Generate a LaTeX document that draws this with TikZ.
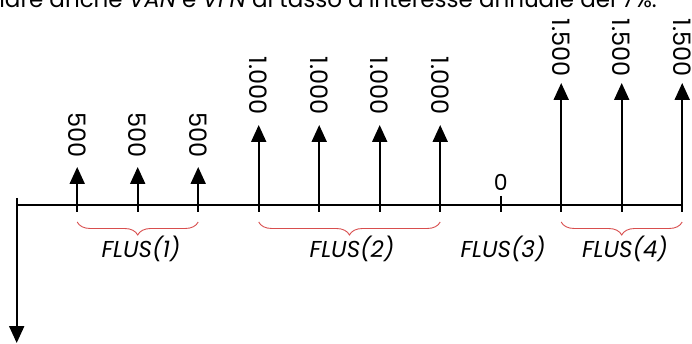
\documentclass[tikz,border=0pt]{standalone}
\usepackage{fontspec}
\setmainfont{Poppins}
\usetikzlibrary{arrows.meta,decorations.pathreplacing}
\definecolor{bracered}{RGB}{216,78,78}
\begin{document}
\begin{tikzpicture}[x=1pt,y=-1pt,
  axisline/.style={line width=2pt,black},
  flow/.style={line width=2pt,-{Triangle[length=17pt,width=15pt]}},
  tickmark/.style={line width=1.8pt},
  amount/.style={rotate=-90,anchor=east,inner sep=0pt,font=\fontsize{24}{24}\selectfont},
  groupbrace/.style={decorate,decoration={brace,mirror,amplitude=13pt},draw=bracered,line width=0.9pt},
  grouplabel/.style={anchor=base,inner sep=0pt,font=\fontsize{23}{23}\selectfont\itshape}]
\useasboundingbox (0,0) rectangle (692,344);
% title (cut off at the top)
\node[anchor=base east,inner sep=0pt,font=\fontsize{23}{23}\selectfont] (title) at (657,7.5)
  {Calcolare anche \textit{VAN} e \textit{VFN} al tasso d'interesse annuale del 7\%.};
% axis points
\coordinate (o) at (16.7,205);
\coordinate (otop) at (16.7,198);
\coordinate (obot) at (16.7,343);
\foreach \k in {1,...,11} { \coordinate (t\k) at ({16.7+60.5*\k},205); }
% axis and outflow
\draw[axisline] (o) -- (t11);
\draw[flow] (otop) -- (obot);
% ticks
\foreach \k in {1,...,11} { \draw[tickmark] (t\k) -- ++(0,7); }
\coordinate (z8) at (500.7,196);
\draw[tickmark] (z8) -- (t8);
% inflows
\foreach \k/\tip/\lab/\lend in {1/167/500/158,2/167/500/158,3/167/500/158,
  4/125/1.000/115,5/125/1.000/115,6/125/1.000/115,7/125/1.000/115,
  9/83/1.500/77,10/83/1.500/77,11/83/1.500/77} {
  \coordinate (h\k) at ({16.7+60.5*\k},\tip);
  \draw[flow] (t\k) -- (h\k);
  \node[amount] (v\k) at ({16.7+60.5*\k},\lend) {\lab};
}
\node[anchor=base,inner sep=0pt,font=\fontsize{22}{22}\selectfont] (zero) at (500.7,190.5) {0};
% braces
\draw[groupbrace] ([yshift=-17pt]t1) -- ([yshift=-17pt]t3);
\draw[groupbrace] ([yshift=-17pt]t4) -- ([yshift=-17pt]t7);
\draw[groupbrace] ([yshift=-17pt]t9) -- ([yshift=-17pt]t11);
% group labels
\node[grouplabel] (f1) at (141,258) {FLUS(1)};
\node[grouplabel] (f2) at (352,258) {FLUS(2)};
\node[grouplabel] (f3) at (503,258) {FLUS(3)};
\node[grouplabel] (f4) at (625,258) {FLUS(4)};
\end{tikzpicture}
\end{document}
